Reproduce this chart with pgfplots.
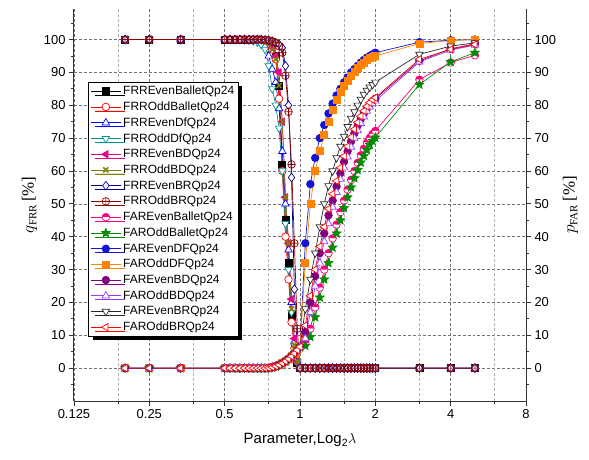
\documentclass[border=0pt]{standalone}
\usepackage{fontspec}
\setmainfont{Liberation Sans}
\newfontfamily\serif{Liberation Serif}
\usepackage{pgfplots}
\usepackage{pgfplotstable}
\pgfplotsset{compat=1.18}
\usetikzlibrary{shadows,plotmarks}

\definecolor{tealc}{RGB}{0,150,150}
\definecolor{olivec}{RGB}{128,128,0}
\definecolor{navyc}{RGB}{0,0,140}
\definecolor{darkredc}{RGB}{140,0,0}
\definecolor{pinkc}{RGB}{255,0,128}
\definecolor{greenc}{RGB}{0,140,0}
\definecolor{bluec}{RGB}{20,20,210}
\definecolor{orangec}{RGB}{255,130,0}
\definecolor{purplec}{RGB}{128,0,128}
\definecolor{violetc}{RGB}{150,60,255}
\definecolor{grayc}{RGB}{40,40,40}

% filled five-pointed star
\pgfdeclareplotmark{fstar}{%
  \pgfpathmoveto{\pgfpointpolar{90}{\pgfplotmarksize}}%
  \pgfpathlineto{\pgfpointpolar{126}{0.45\pgfplotmarksize}}%
  \pgfpathlineto{\pgfpointpolar{162}{\pgfplotmarksize}}%
  \pgfpathlineto{\pgfpointpolar{198}{0.45\pgfplotmarksize}}%
  \pgfpathlineto{\pgfpointpolar{234}{\pgfplotmarksize}}%
  \pgfpathlineto{\pgfpointpolar{270}{0.45\pgfplotmarksize}}%
  \pgfpathlineto{\pgfpointpolar{306}{\pgfplotmarksize}}%
  \pgfpathlineto{\pgfpointpolar{342}{0.45\pgfplotmarksize}}%
  \pgfpathlineto{\pgfpointpolar{18}{\pgfplotmarksize}}%
  \pgfpathlineto{\pgfpointpolar{54}{0.45\pgfplotmarksize}}%
  \pgfpathclose
  \pgfusepathqfillstroke}

% FRR curves
\pgfplotstableread{
x a b c d e f g h
0.2 100 100 100 100 100 100 100 100
0.25 100 100 100 100 100 100 100 100
0.3333 100 100 100 100 100 100 100 100
0.5 100 100 100 100 100 100 100 100
0.525 100 100 100 100 100 100 100 100
0.55 100 100 100 100 100 100 100 100
0.575 100 100 100 100 100 100 100 100
0.6 100 100 100 100 100 100 100 100
0.625 100 100 100 99.9 100 100 100 100
0.65 100 100 99.8 99.6 100 100 100 100
0.675 100 100 99.5 99.2 100 99.9 100 100
0.7 99.8 99.8 99 98.5 99.8 99.7 100 100
0.725 99.5 99.4 98 97 99.5 99.3 99.9 99.9
0.75 99 98.8 95 92 99 99 99.8 99.8
0.775 98 97 91 85 97.5 97 99.5 99.5
0.8 95 94 87 80 95 94 99 99
0.825 86 82 79 73 90 86 98.5 98
0.85 62 60 66 60 75 75 97.5 96
0.875 45 40 50 44 52 52 92 89
0.9 32 27 36 30 38 38 80 78
0.925 16 14 20 17 21 18 58 62
0.95 6 6 8 7 9 7 24 38
0.975 1.5 2 2 2 2 2 5 12
1 0 0 0 0 0 0 0 0
1.05 0 0 0 0 0 0 0 0
1.1 0 0 0 0 0 0 0 0
1.15 0 0 0 0 0 0 0 0
1.2 0 0 0 0 0 0 0 0
1.25 0 0 0 0 0 0 0 0
1.3 0 0 0 0 0 0 0 0
1.35 0 0 0 0 0 0 0 0
1.4 0 0 0 0 0 0 0 0
1.45 0 0 0 0 0 0 0 0
1.5 0 0 0 0 0 0 0 0
1.55 0 0 0 0 0 0 0 0
1.6 0 0 0 0 0 0 0 0
1.65 0 0 0 0 0 0 0 0
1.7 0 0 0 0 0 0 0 0
1.75 0 0 0 0 0 0 0 0
1.8 0 0 0 0 0 0 0 0
1.85 0 0 0 0 0 0 0 0
1.9 0 0 0 0 0 0 0 0
1.95 0 0 0 0 0 0 0 0
2 0 0 0 0 0 0 0 0
3 0 0 0 0 0 0 0 0
4 0 0 0 0 0 0 0 0
5 0 0 0 0 0 0 0 0
}\frr

% FAR curves
\pgfplotstableread{
x i j k l m n o p
0.2 0 0 0 0 0 0 0 0
0.25 0 0 0 0 0 0 0 0
0.3333 0 0 0 0 0 0 0 0
0.5 0 0 0 0 0 0 0 0
0.525 0 0 0 0 0 0 0 0
0.55 0 0 0 0 0 0 0 0
0.575 0 0 0 0 0 0 0 0
0.6 0 0 0 0 0 0 0 0
0.625 0 0 0 0 0 0 0 0
0.65 0 0 0 0 0 0 0 0
0.675 0 0 0 0 0 0 0 0
0.7 0 0 0 0 0 0 0 0
0.725 0 0 0 0 0 0 0 0
0.75 0 0 0.1 0.1 0 0 0.1 0.1
0.775 0.2 0.2 0.3 0.3 0.3 0.3 0.3 0.3
0.8 0.5 0.5 0.6 0.6 0.6 0.6 0.6 0.6
0.825 0.9 0.9 1.0 1.0 1.0 1.0 1.0 1.0
0.85 1.4 1.4 1.5 1.5 1.5 1.5 1.5 1.5
0.875 2.0 2.0 2.1 2.1 2.1 2.1 2.1 2.1
0.9 2.7 2.7 2.8 2.8 2.8 2.8 2.8 2.8
0.925 3.5 3.5 3.6 3.6 3.6 3.6 3.6 3.6
0.95 4.4 4.4 4.5 4.5 4.5 4.5 4.5 4.5
0.975 5.4 5.4 5.5 5.5 5.5 5.5 5.5 5.5
1 6.3 6.3 6.5 6.5 6.5 6.5 6.5 6.5
1.05 7.5 6.8 38 32 11 9 18 13
1.1 12 9.5 56 50 20 17 27 22
1.15 18.5 15.5 64 60 28 25 35 30
1.2 24.5 21.5 70 66 35 32 43 37
1.25 30 27 74 71 41 38.5 50 43
1.3 35 32 77.5 75 46.5 44 55.5 48.5
1.35 39.5 36.7 80.5 78.5 51 49 60 53
1.4 43.7 41 83 81.5 55.3 53.5 64 57
1.45 47.5 45 85 84 59.3 57.5 67.5 61
1.5 51 48.7 87 86 62.8 61 70.5 64.5
1.55 54.3 52 88.5 87.5 66 64.3 73.5 67.5
1.6 57.3 55 90 89 69 67.3 76 70.3
1.65 60 57.8 91 90.3 71.5 70 78 72.7
1.7 62.5 60.3 92 91.3 73.8 72.3 80 74.8
1.75 64.8 62.6 93 92.2 75.8 74.5 81.8 76.7
1.8 66.8 64.6 93.8 93 77.5 76.5 83.3 78.3
1.85 68.6 66.4 94.5 93.7 79 78.2 84.5 79.7
1.9 70.1 68 95 94.3 80.2 79.5 85.5 80.8
1.95 71.3 69.2 95.5 94.7 81.2 80.5 86.3 81.7
2 72.2 70.2 96 95 82 81.3 87 82.3
3 87.8 86.3 99.2 98.8 93.5 93.2 95.5 94
4 93 93.2 99.8 99.7 97.2 96.8 98 97
5 95.2 96 100 100 98.7 98.3 99 98.5
}\far

\begin{document}
\begin{tikzpicture}
\path[use as bounding box] (-74bp,-59bp) rectangle (515bp,401bp);
\begin{axis}[
  at={(0,0)}, anchor=south west,
  scale only axis, width=452bp, height=392bp,
  xmode=log, log basis x=2,
  xmin=0.125, xmax=8, ymin=-10, ymax=109.3,
  ytick={0,10,...,100},
  minor ytick={-5,5,...,105},
  tick align=outside,
  major tick length=5bp, minor tick length=3bp,
  axis line style={black!80, line width=1pt},
  tick style={black!80, line width=0.8pt},
  tick label style={font=\fontsize{13}{15}\selectfont},
  label style={font=\fontsize{15}{17}\selectfont},
  yticklabel={\pgfmathprintnumber[assume math mode=true]{\tick}},
  axis x line*=bottom, axis y line*=left,
  xtick={0.125,0.25,0.5,1,2,4,8},
  xticklabels={0.125,0.25,0.5,1,2,4,8},
  extra x ticks={0.1875,0.375,0.75,1.5,3,6},
  extra x tick labels={},
  extra x tick style={major tick length=3bp,
    major grid style={densely dashed, black!30, line width=0.6pt}},
  xmajorgrids, ymajorgrids,
  major grid style={densely dashed, black!55, line width=0.6pt},
  xlabel={Parameter,Log\textsubscript{2}$\lambda$},
  ylabel={$q_{\mbox{\serif\fontsize{11}{12}\selectfont FRR}}$\,{\serif[\%]}},
  ylabel style={font=\fontsize{17}{19}\selectfont},
  legend cell align=left,
  legend style={at={(0.031,0.815)}, anchor=north west,
    draw=black, line width=1pt, fill=white,
    drop shadow={shadow xshift=4bp, shadow yshift=-4bp, fill=black, opacity=1},
    font=\fontsize{12}{13}\selectfont, inner sep=2bp, row sep=1.7bp},
  legend image code/.code={\draw[mark repeat=2, mark phase=2, line width=0.7pt]
    plot coordinates {(0bp,0bp) (15bp,0bp) (30bp,0bp)};},
]
\addplot[black, line width=0.7pt, mark size=3.5bp, mark=square*, mark options={fill=black}] table[x=x, y=a] {\frr};
\addplot[red, line width=0.7pt, mark size=3.8bp, mark=*, mark options={fill=white}] table[x=x, y=b] {\frr};
\addplot[blue, line width=0.7pt, mark size=4.3bp, mark=triangle*, mark options={fill=white}] table[x=x, y=c] {\frr};
\addplot[tealc, line width=0.7pt, mark size=4.3bp, mark=triangle*, mark options={fill=white, rotate=180}] table[x=x, y=d] {\frr};
\addplot[magenta, line width=0.7pt, mark size=4.3bp, mark=triangle*, mark options={fill=magenta, rotate=90}] table[x=x, y=e] {\frr};
\addplot[olivec, line width=0.7pt, mark size=3.6bp, mark=x, mark options={line width=1.6pt}] table[x=x, y=f] {\frr};
\addplot[navyc, line width=0.7pt, mark size=4.3bp, mark=diamond*, mark options={fill=white}] table[x=x, y=g] {\frr};
\addplot[darkredc, line width=0.7pt, mark size=3.8bp, mark=oplus, mark options={fill=white}] table[x=x, y=h] {\frr};
\addplot[pinkc, line width=0.7pt, mark size=3.8bp, mark=halfcircle*, mark options={fill=pinkc}] table[x=x, y=i] {\far};
\addplot[greenc, line width=0.7pt, mark size=4.6bp, mark=fstar, mark options={fill=greenc}] table[x=x, y=j] {\far};
\addplot[bluec, line width=0.7pt, mark size=3.8bp, mark=*, mark options={fill=bluec}] table[x=x, y=k] {\far};
\addplot[orangec, line width=0.7pt, mark size=3.5bp, mark=square*, mark options={fill=orangec}] table[x=x, y=l] {\far};
\addplot[purplec, line width=0.7pt, mark size=3.8bp, mark=*, mark options={fill=purplec}] table[x=x, y=m] {\far};
\addplot[violetc, line width=0.7pt, mark size=4.3bp, mark=triangle*, mark options={fill=white}] table[x=x, y=n] {\far};
\addplot[grayc, line width=0.7pt, mark size=4.3bp, mark=triangle*, mark options={fill=white, rotate=180}] table[x=x, y=o] {\far};
\addplot[red, line width=0.7pt, mark size=4.3bp, mark=triangle*, mark options={fill=white, rotate=90}] table[x=x, y=p] {\far};
\legend{FRREvenBalletQp24, FRROddBalletQp24, FRREvenDfQp24, FRROddDfQp24,
  FRREvenBDQp24, FRROddBDQp24, FRREvenBRQp24, FRROddBRQp24,
  FAREvenBalletQp24, FAROddBalletQp24, FAREvenDFQp24, FAROddDFQp24,
  FAREvenBDQp24, FAROddBDQp24, FAREvenBRQp24, FAROddBRQp24}
\end{axis}
\begin{axis}[
  at={(0,0)}, anchor=south west,
  scale only axis, width=452bp, height=392bp,
  xmin=0.125, xmax=8, ymin=-10, ymax=109.3,
  ytick={0,10,...,100},
  minor ytick={-5,5,...,105},
  tick align=outside,
  major tick length=5bp, minor tick length=3bp,
  axis line style={black!80, line width=1pt},
  tick style={black!80, line width=0.8pt},
  tick label style={font=\fontsize{13}{15}\selectfont},
  yticklabel={\pgfmathprintnumber[assume math mode=true]{\tick}},
  axis x line=none, axis y line*=right,
  ylabel={$p_{\mbox{\serif\fontsize{11}{12}\selectfont FAR}}$\,{\serif[\%]}},
  ylabel style={font=\fontsize{17}{19}\selectfont},
]
\end{axis}
\end{tikzpicture}
\end{document}
